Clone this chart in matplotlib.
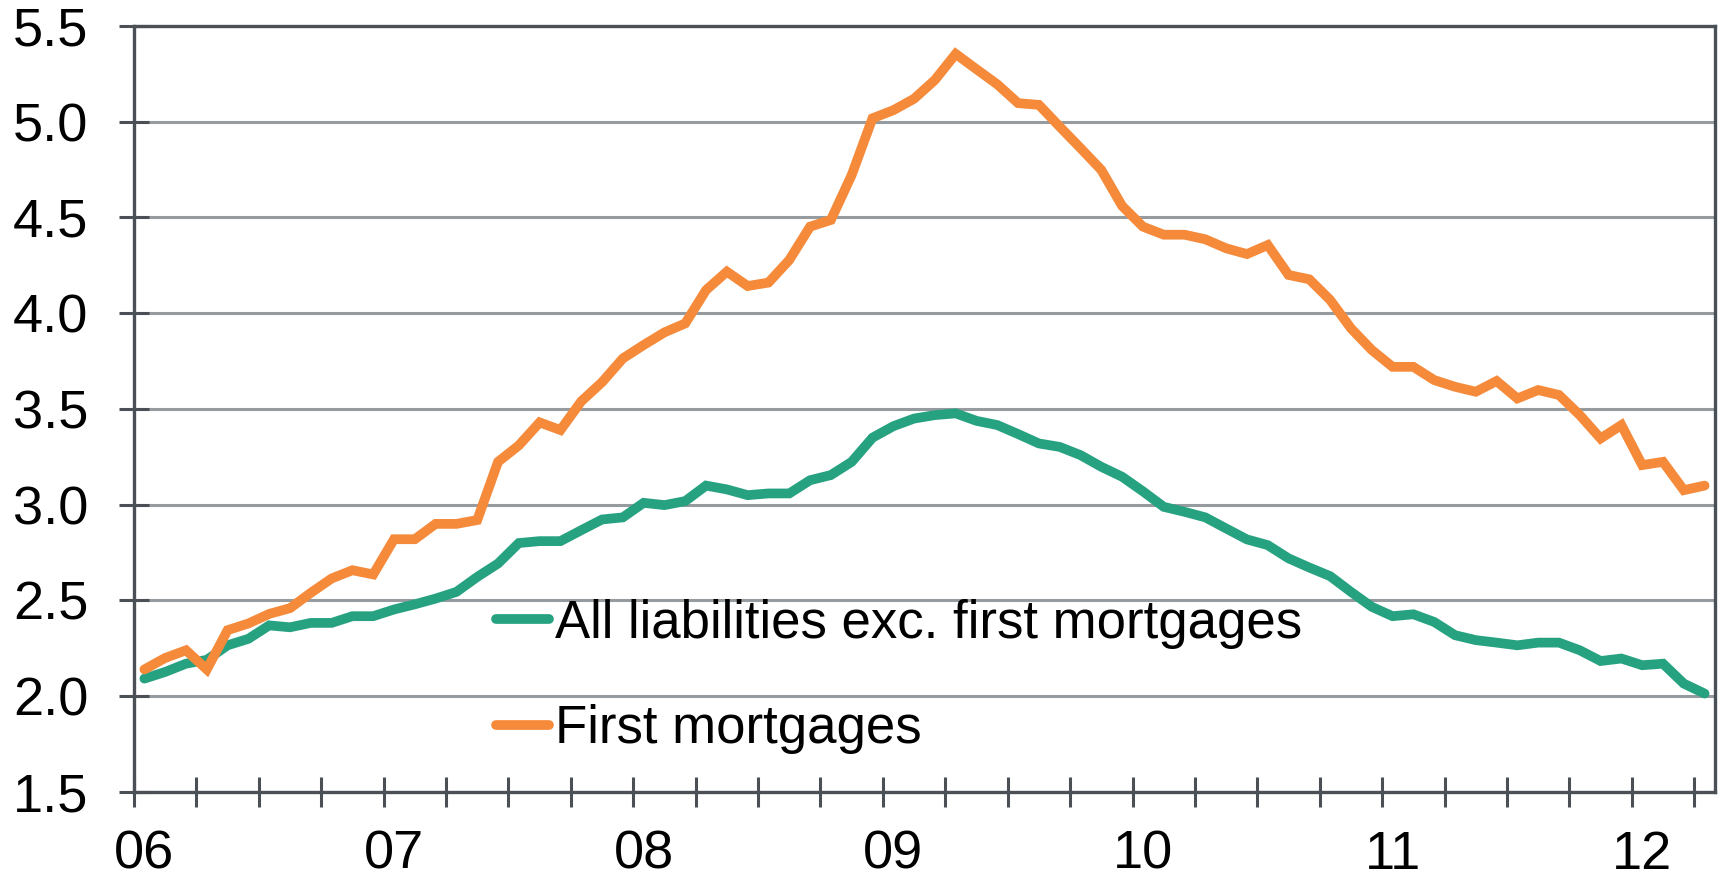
import numpy as np
import matplotlib
matplotlib.use('Agg')
import matplotlib.pyplot as plt

plt.rcParams['font.family'] = ['Liberation Sans', 'DejaVu Sans']

# Monthly data, Jan 2006 - Apr 2012
series_names = ['All liabilities exc. first mortgages', 'First mortgages']
all_exc_first = [
    2.092, 2.127, 2.17, 2.19, 2.266, 2.30, 2.37, 2.36, 2.383, 2.383, 2.418, 2.418,
    2.453, 2.48, 2.51, 2.545, 2.623, 2.693, 2.80, 2.81, 2.81, 2.867, 2.923, 2.934,
    3.01, 2.998, 3.019, 3.10, 3.08, 3.05, 3.059, 3.059, 3.128, 3.155, 3.224, 3.35,
    3.41, 3.45, 3.468, 3.477, 3.438, 3.416, 3.369, 3.32, 3.302, 3.259, 3.198, 3.146,
    3.07, 2.989, 2.963, 2.934, 2.876, 2.819, 2.789, 2.72, 2.672, 2.627, 2.545, 2.467,
    2.418, 2.428, 2.388, 2.319, 2.293, 2.28, 2.266, 2.28, 2.28, 2.24, 2.184, 2.197,
    2.162, 2.17, 2.066, 2.014,
]
first_mortgages = [
    2.14, 2.20, 2.24, 2.14, 2.345, 2.38, 2.43, 2.46, 2.54, 2.615, 2.658, 2.636,
    2.82, 2.82, 2.90, 2.90, 2.92, 3.224, 3.31, 3.43, 3.39, 3.54, 3.64, 3.764,
    3.834, 3.90, 3.947, 4.121, 4.217, 4.142, 4.16, 4.278, 4.452, 4.487, 4.722, 5.018,
    5.06, 5.12, 5.218, 5.354, 5.274, 5.195, 5.097, 5.088, 4.974, 4.862, 4.748, 4.56,
    4.452, 4.41, 4.41, 4.386, 4.339, 4.309, 4.356, 4.20, 4.177, 4.069, 3.921, 3.808,
    3.72, 3.72, 3.651, 3.616, 3.59, 3.646, 3.555, 3.599, 3.573, 3.468, 3.346, 3.416,
    3.207, 3.224, 3.076, 3.10,
]
year_labels = ['06', '07', '08', '09', '10', '11', '12']

green = '#27a281'
orange = '#f58a3b'
spine_col = '#4b5056'
grid_col = '#969ba0'

months = np.arange(len(first_mortgages))

fig = plt.figure(figsize=(17.2, 8.8), dpi=100)
ax = fig.add_axes([0.0779, 0.1, 0.9192, 0.8705])

ax.plot(months, all_exc_first, color=green, lw=7, solid_capstyle='round',
        solid_joinstyle='miter', label=series_names[0])
ax.plot(months, first_mortgages, color=orange, lw=7, solid_capstyle='round',
        solid_joinstyle='miter', label=series_names[1])

ax.set_xlim(-0.5, len(months) - 0.5)
ax.set_ylim(1.5, 5.5)

# y axis
ax.set_yticks(np.arange(1.5, 5.51, 0.5))
ax.set_yticklabels([f'{v:.1f}' for v in np.arange(1.5, 5.51, 0.5)])
ax.tick_params(axis='y', direction='inout', length=22, width=2.2, color=spine_col,
               labelsize=39, pad=22)
ax.yaxis.grid(True, color=grid_col, lw=2.2)
ax.set_axisbelow(True)

# x axis: quarter boundaries as tick marks, year labels at January
ax.set_xticks(np.arange(-0.5, len(months) - 1, 3))
ax.set_xticklabels([])
ax.tick_params(axis='x', which='major', direction='inout', length=22, width=2.2,
               color=spine_col)
ax.set_xticks(np.arange(0, len(months), 12), minor=True)
ax.set_xticklabels(year_labels, minor=True)
ax.tick_params(axis='x', which='minor', length=0, labelsize=39, pad=27)

for s in ax.spines.values():
    s.set_color(spine_col)
    s.set_linewidth(2.4)

ax.legend(loc='upper left', bbox_to_anchor=(0.229, 0.252), frameon=False,
          fontsize=38, handlelength=1.0, handletextpad=0.12, labelspacing=1.05,
          borderpad=0, borderaxespad=0)

fig.savefig('out.png', dpi=100)
